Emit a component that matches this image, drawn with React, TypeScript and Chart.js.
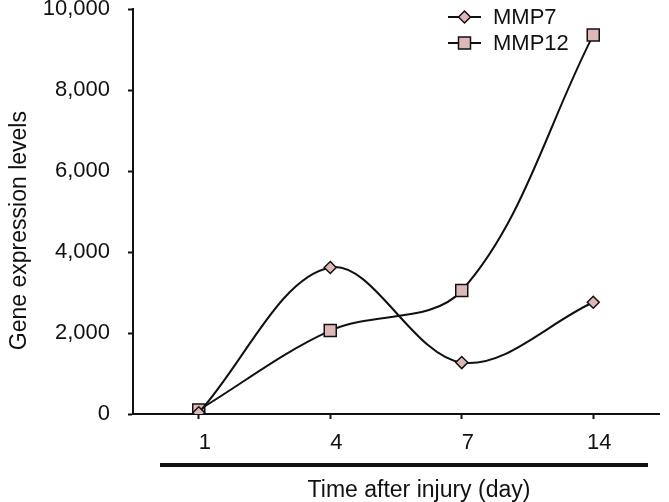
import React, { useEffect, useRef } from "react";
import { Chart, registerables } from "chart.js";

Chart.register(...registerables);

const categories = ["1", "4", "7", "14"];
const mmp7 = [30, 3620, 1270, 2760];
const mmp12 = [100, 2060, 3050, 9360];
const yTicks = [0, 2000, 4000, 6000, 8000, 10000];
const seriesNames = ["MMP7", "MMP12"];
const xTitle = "Time after injury (day)";
const yTitle = "Gene expression levels";

const FONT = "'Liberation Sans', Arial, sans-serif";
const MARKER_FILL = "#ddb8b8";
const INK = "#111";
const SHIFT = 22; // canvas is drawn taller and shifted up to trim the top reserve
const W = 669;
const H = 502 + SHIFT;

function drawMarker(ctx: CanvasRenderingContext2D, style: string, x: number, y: number) {
  ctx.fillStyle = MARKER_FILL;
  ctx.strokeStyle = INK;
  ctx.lineWidth = 1.5;
  ctx.beginPath();
  if (style === "rectRot") {
    const r = 6;
    ctx.moveTo(x, y - r);
    ctx.lineTo(x + r, y);
    ctx.lineTo(x, y + r);
    ctx.lineTo(x - r, y);
    ctx.closePath();
  } else {
    const h = 6;
    ctx.rect(x - h, y - h, 2 * h, 2 * h);
  }
  ctx.fill();
  ctx.stroke();
}

const decorPlugin = {
  id: "decor",
  afterDraw(chart: any) {
    const ctx = chart.ctx;
    const area = chart.chartArea;
    ctx.save();
    ctx.strokeStyle = INK;
    ctx.lineWidth = 4;
    ctx.beginPath();
    ctx.moveTo(area.left + 27, area.bottom + 51);
    ctx.lineTo(area.right - 11, area.bottom + 51);
    ctx.stroke();
    ctx.fillStyle = INK;
    ctx.font = `23px ${FONT}`;
    ctx.textAlign = "center";
    ctx.textBaseline = "middle";
    ctx.fillText(xTitle, (area.left + area.right) / 2 + 23, area.bottom + 77);
    // y title
    ctx.save();
    ctx.translate(20, area.top + (area.bottom - area.top) / 2 + 19);
    ctx.rotate(-Math.PI / 2);
    ctx.fillText(yTitle, 0, 0);
    ctx.restore();
    const styles = ["rectRot", "rect"];
    seriesNames.forEach((name, i) => {
      const y = SHIFT + 17 + i * 26;
      const x0 = 448;
      const x1 = 481;
      ctx.strokeStyle = INK;
      ctx.lineWidth = 2;
      ctx.beginPath();
      ctx.moveTo(x0, y);
      ctx.lineTo(x1, y);
      ctx.stroke();
      drawMarker(ctx, styles[i], (x0 + x1) / 2, y);
      ctx.fillStyle = INK;
      ctx.font = `22px ${FONT}`;
      ctx.textAlign = "left";
      ctx.textBaseline = "middle";
      ctx.fillText(name, 493, y + 1);
    });
    ctx.restore();
  },
};

export default function App() {
  const ref = useRef<HTMLCanvasElement | null>(null);
  useEffect(() => {
    document.body.style.margin = "0";
    const canvas = ref.current;
    if (!canvas) return;
    const common = {
      borderColor: INK,
      borderWidth: 2,
      tension: 0.35,
      pointBackgroundColor: MARKER_FILL,
      pointBorderColor: INK,
      pointBorderWidth: 1.5,
    };
    const chart = new Chart(canvas, {
      type: "line",
      data: {
        labels: categories,
        datasets: [
          { ...common, label: seriesNames[0], data: mmp7, pointStyle: "rectRot", pointRadius: 6 },
          { ...common, label: seriesNames[1], data: mmp12, pointStyle: "rect", pointRadius: 8.5 },
        ],
      },
      options: {
        animation: false,
        responsive: false,
        layout: { padding: { left: 0, right: 2, top: 0, bottom: 0 } },
        plugins: { legend: { display: false }, tooltip: { enabled: false } },
        scales: {
          x: {
            offset: true,
            grid: {
              drawOnChartArea: false,
              drawTicks: true,
              tickLength: 5,
              tickColor: INK,
              tickWidth: 2,
            },
            border: { display: true, color: INK, width: 2 },
            ticks: {
              color: INK,
              font: { family: FONT, size: 22 },
              padding: 11,
              labelOffset: 6,
              maxRotation: 0,
            },
            afterFit(scale: any) {
              scale.height = 502 - 414;
            },
          },
          y: {
            min: 0,
            max: 10000,
            afterBuildTicks(scale: any) {
              scale.ticks = yTicks.map((v) => ({ value: v }));
            },
            grid: {
              drawOnChartArea: false,
              drawTicks: true,
              tickLength: 5,
              tickColor: INK,
              tickWidth: 2,
            },
            border: { display: true, color: INK, width: 2 },
            ticks: {
              color: INK,
              font: { family: FONT, size: 22 },
              padding: 18,
              callback: (v: any) => Number(v).toLocaleString("en-US"),
            },
            afterFit(scale: any) {
              scale.width = 133;
            },
          },
        },
      },
      plugins: [decorPlugin],
    } as any);
    return () => chart.destroy();
  }, []);
  return (
    <div style={{ width: W, height: 502, overflow: "hidden" }}>
      <canvas ref={ref} width={W} height={H} style={{ display: "block", marginTop: -SHIFT }} />
    </div>
  );
}
